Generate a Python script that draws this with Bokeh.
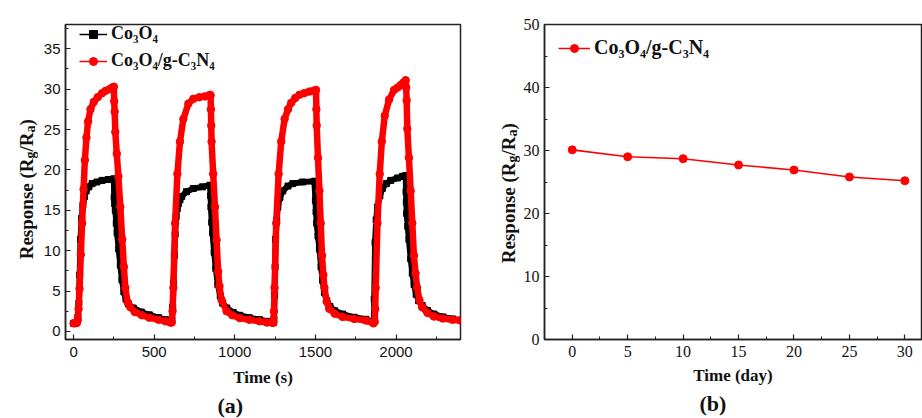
import numpy as np
from bokeh.plotting import figure
from bokeh.models import Legend, LegendItem, Range1d, SingleIntervalTicker
from bokeh.core.properties import value
from bokeh.layouts import row
from bokeh.embed import file_html
from bokeh.resources import INLINE

# ---- (a) dynamic response, Co3O4/g-C3N4 (red) ----
t_red = [0, 10, 20, 26, 31, 37, 45, 53, 62, 70, 80, 90, 105, 125, 150, 177, 200, 225, 240, 250,
         252, 255, 259, 268, 278, 290, 302, 312, 321, 335, 352, 380, 424, 470, 527, 570, 600,
         609, 614, 619, 630, 644, 660, 681, 712, 743, 780, 815, 846, 850,
         852, 854, 856, 866, 877, 887, 897, 905, 918, 949, 985, 1031, 1090, 1154, 1200, 1235,
         1240, 1243, 1247, 1257, 1272, 1288, 1309, 1330, 1350, 1375, 1401, 1430, 1463, 1490, 1504,
         1506, 1508, 1516, 1525, 1533, 1541, 1549, 1556, 1570, 1586, 1620, 1669, 1740, 1813, 1860,
         1868, 1871, 1874, 1885, 1899, 1912, 1930, 1957, 1988, 2010, 2029, 2045, 2060,
         2063, 2066, 2070, 2080, 2091, 2101, 2111, 2121, 2131, 2145, 2162, 2195, 2235, 2290, 2350, 2400]
v_red = [1.0, 1.0, 1.05, 1.4, 2.8, 5.3, 9.5, 13.4, 17.6, 21.2, 24.0, 26.0, 27.5, 28.4, 29.0, 29.5, 29.8, 30.0, 30.2, 30.3,
         28.5, 27.2, 24.7, 22.0, 19.2, 15.4, 11.4, 8.0, 5.4, 3.6, 3.0, 2.4, 2.0, 1.7, 1.45, 1.25, 1.1,
         1.1, 2.5, 5.4, 13.4, 19.5, 23.5, 26.3, 28.2, 28.8, 29.0, 29.1, 29.3, 29.2,
         27.5, 25.5, 23.5, 19.5, 15.4, 11.3, 7.4, 5.6, 3.9, 2.5, 2.0, 1.65, 1.45, 1.25, 1.1, 1.05,
         1.1, 2.5, 5.4, 13.4, 19.5, 23.5, 26.3, 27.5, 28.3, 28.9, 29.3, 29.5, 29.7, 29.8, 29.9,
         27.5, 25.5, 21.5, 17.4, 13.4, 9.4, 7.0, 5.4, 3.7, 2.8, 2.2, 1.8, 1.55, 1.35, 1.0,
         1.2, 2.8, 5.4, 13.4, 19.5, 23.5, 26.7, 28.7, 29.9, 30.2, 30.5, 30.8, 31.1,
         30.2, 28.6, 25.1, 21.5, 17.4, 13.4, 9.4, 7.2, 5.4, 3.9, 3.0, 2.3, 1.85, 1.6, 1.45, 1.35]

# ---- (a) dynamic response, Co3O4 (black) ----
t_blk = [0, 10, 20, 27, 33, 38, 43, 50, 58, 68, 78, 95, 115, 145, 177, 215, 250,
         252, 255, 259, 265, 270, 280, 290, 300, 312, 325, 340, 370, 420, 470, 527, 570, 605,
         610, 615, 620, 625, 630, 636, 643, 650, 660, 671, 700, 743, 800, 846,
         850, 852, 857, 862, 872, 882, 895, 910, 925, 950, 990, 1031, 1090, 1154, 1200, 1240,
         1243, 1247, 1250, 1253, 1260, 1267, 1280, 1298, 1330, 1360, 1420, 1494,
         1500, 1504, 1508, 1516, 1525, 1535, 1545, 1556, 1570, 1590, 1620, 1669, 1740, 1813, 1860,
         1862, 1865, 1870, 1877, 1885, 1900, 1915, 1940, 1967, 2010, 2040, 2060,
         2062, 2064, 2066, 2073, 2080, 2091, 2101, 2112, 2125, 2140, 2162, 2195, 2235, 2290, 2350, 2400]
v_blk = [1.0, 1.0, 1.1, 1.8, 3.5, 7.0, 11.4, 14.0, 15.6, 16.7, 17.4, 17.9, 18.3, 18.5, 18.7, 18.8, 18.9,
         16.6, 15.8, 15.0, 13.4, 12.2, 10.2, 8.2, 6.4, 4.9, 4.0, 3.4, 2.9, 2.4, 2.05, 1.7, 1.45, 1.2,
         1.4, 3.0, 6.0, 9.4, 12.0, 14.2, 15.2, 15.8, 16.3, 16.7, 17.3, 17.7, 17.9, 18.1,
         16.8, 15.4, 13.5, 12.2, 9.8, 7.8, 5.8, 4.4, 3.5, 2.9, 2.35, 2.0, 1.7, 1.45, 1.25, 1.1,
         1.6, 4.5, 8.0, 11.4, 13.8, 15.4, 16.6, 17.4, 18.0, 18.3, 18.5, 18.6,
         16.2, 14.8, 13.4, 11.8, 10.2, 8.0, 6.3, 4.8, 3.8, 3.1, 2.55, 2.15, 1.75, 1.5, 1.1,
         1.2, 4.0, 11.0, 13.8, 15.4, 16.8, 17.7, 18.3, 18.7, 19.0, 19.2, 19.3,
         17.3, 16.0, 14.6, 13.0, 11.4, 9.0, 7.2, 5.8, 4.6, 3.8, 3.2, 2.6, 2.15, 1.8, 1.55, 1.4]

# ---- (b) long-term stability ----
days = [0, 5, 10, 15, 20, 25, 30]
stab_resp = [30.1, 29.0, 28.7, 27.7, 26.9, 25.8, 25.2]

label_co = "Co\u2083O\u2084"
label_cn = "Co\u2083O\u2084/g-C\u2083N\u2084"
ylabel_parts = ["Response (R", "g", "/R", "a", ")"]
ylabel_is_sub = [False, True, False, True, False]
SERIF = "Liberation Serif"
SANS = "Liberation Sans"


def style_axes(p, tick_font, tick_size):
    p.xgrid.grid_line_color = None
    p.ygrid.grid_line_color = None
    p.outline_line_color = "#222222"
    p.outline_line_width = 1.5
    p.outline_line_alpha = 1.0
    p.background_fill_color = "white"
    p.border_fill_color = "white"
    for ax in (p.xaxis[0], p.yaxis[0]):
        ax.major_tick_in = 5
        ax.major_tick_out = 0
        ax.minor_tick_in = 3
        ax.minor_tick_out = 0
        ax.axis_line_width = 1.5
        ax.axis_line_color = "#222222"
        ax.major_tick_line_color = "#222222"
        ax.minor_tick_line_color = "#222222"
        ax.major_tick_line_width = 1.2
        ax.minor_tick_line_width = 1.0
        ax.major_label_text_font = tick_font
        ax.major_label_text_font_size = tick_size
        ax.major_label_text_color = "#111111"
        ax.axis_label_text_font = SERIF
        ax.axis_label_text_font_style = "bold"
        ax.axis_label_text_font_size = "17px"
        ax.axis_label_text_color = "#111111"


def ylabel_figure(width, top, bottom, base_x, start_px, main_size=19, sub_size=14, sub_shift=4):
    """A narrow strip holding the rotated y-axis title with real subscripts.
    Its frame spans rows top..(418-bottom) like the neighbouring plot; the range is set
    so that one unit is one pixel, and the pieces are chained with pixel offsets."""
    f = figure(width=width, height=418, x_range=Range1d(0, width),
               y_range=Range1d(bottom, 418 - top),
               output_backend="svg", toolbar_location=None,
               x_axis_location=None, y_axis_location=None,
               min_border_left=0, min_border_right=0,
               min_border_top=top, min_border_bottom=bottom)
    f.xgrid.grid_line_color = None
    f.ygrid.grid_line_color = None
    f.outline_line_color = None
    ems = {"Response (R": 5.305, "g": 0.5, "/R": 1.0, "a": 0.5, ")": 0.333}
    shift = 0.0
    for txt, sub in zip(ylabel_parts, ylabel_is_sub):
        size = sub_size if sub else main_size
        f.text(x=[base_x], y=[418 - start_px], text=[txt], angle=np.pi / 2,
               x_offset=sub_shift if sub else 0, y_offset=-shift,
               text_font=value(SERIF), text_font_style="bold", text_font_size=f"{size}px",
               text_color="#111111", text_align="left", text_baseline="alphabetic")
        shift += ems[txt] * size
    return f


# ---------------- figure (a) ----------------
pa = figure(width=432, height=418, x_range=Range1d(-50, 2400), y_range=Range1d(-1, 38),
            output_backend="svg", toolbar_location=None,
            min_border_left=27, min_border_right=10, min_border_top=17, min_border_bottom=79)
style_axes(pa, SANS, "15px")
pa.xaxis[0].ticker = SingleIntervalTicker(interval=500, num_minor_ticks=2)
pa.yaxis[0].ticker = SingleIntervalTicker(interval=5, num_minor_ticks=2)
pa.xaxis[0].axis_label = "Time (s)"
pa.xaxis[0].major_label_standoff = 7
pa.xaxis[0].axis_label_standoff = 8
pa.yaxis[0].major_label_standoff = 5

blk_band = pa.line(t_blk, v_blk, line_color="black", line_width=6, line_join="round")
blk_thin = pa.line(t_blk, v_blk, line_color="black", line_width=1.5)
blk_pts = pa.scatter(t_blk, v_blk, marker="square", size=6, color="black")
red_band = pa.line(t_red, v_red, line_color="#ff0000", line_width=6.5, line_join="round")
red_thin = pa.line(t_red, v_red, line_color="#ff0000", line_width=1.5)
red_pts = pa.scatter(t_red, v_red, marker="circle", size=7.5, color="#ff0000")

leg_a = Legend(items=[LegendItem(label=label_co, renderers=[blk_thin, blk_pts]),
                      LegendItem(label=label_cn, renderers=[red_thin, red_pts])],
               location=(14, 268), border_line_color=None, background_fill_alpha=0,
               label_text_font=SERIF, label_text_font_style="bold", label_text_font_size="18px",
               label_text_color="#111111", glyph_width=28, glyph_height=20, label_height=20,
               spacing=6, padding=0, margin=0, label_standoff=4)
pa.add_layout(leg_a)

pa.title.text = "(a)"
pa.title_location = "below"
pa.title.align = "left"
pa.title.offset = 152
pa.title.text_font = SERIF
pa.title.text_font_style = "bold"
pa.title.text_font_size = "22px"
pa.title.text_color = "#111111"
pa.title.standoff = 2

# ---------------- figure (b) ----------------
pb = figure(width=402, height=418, x_range=Range1d(-2.5, 31.5), y_range=Range1d(0, 50),
            output_backend="svg", toolbar_location=None,
            min_border_left=23, min_border_right=1, min_border_top=24, min_border_bottom=76)
style_axes(pb, SERIF, "16px")
pb.xaxis[0].ticker = SingleIntervalTicker(interval=5, num_minor_ticks=2)
pb.yaxis[0].ticker = SingleIntervalTicker(interval=10, num_minor_ticks=2)
pb.xaxis[0].axis_label = "Time (day)"
pb.xaxis[0].major_label_standoff = 6
pb.xaxis[0].axis_label_standoff = 6
pb.yaxis[0].major_label_standoff = 5

st_line = pb.line(days, stab_resp, line_color="#ff0000", line_width=1.6)
st_pts = pb.scatter(days, stab_resp, marker="circle", size=8, color="#ff0000")
leg_b = Legend(items=[LegendItem(label=label_cn, renderers=[st_line, st_pts])],
               location=(14, 280), border_line_color=None, background_fill_alpha=0,
               label_text_font=SERIF, label_text_font_style="bold", label_text_font_size="20px",
               label_text_color="#111111", glyph_width=32, glyph_height=20, label_height=20,
               padding=0, margin=0, label_standoff=4)
pb.add_layout(leg_b)

pb.title.text = "(b)"
pb.title_location = "below"
pb.title.align = "left"
pb.title.offset = 155
pb.title.text_font = SERIF
pb.title.text_font_style = "bold"
pb.title.text_font_size = "22px"
pb.title.text_color = "#111111"
pb.title.standoff = 2

ya = ylabel_figure(38, 17, 79, 26, 257)
yb = ylabel_figure(50, 24, 76, 38, 265)

layout = row(ya, pa, yb, pb)
open("out.html", "w").write(file_html(layout, INLINE))
